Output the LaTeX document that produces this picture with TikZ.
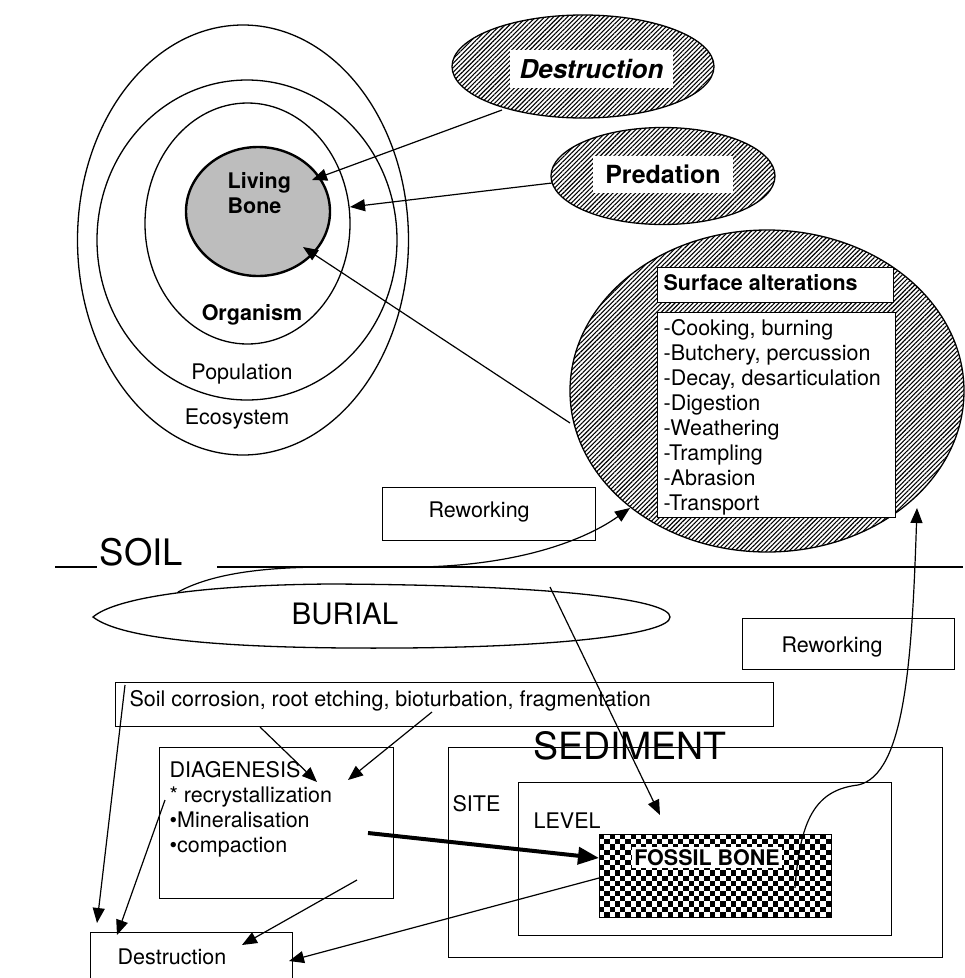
\documentclass[tikz,border=0pt]{standalone}
\usepackage{fontspec}
\setmainfont{TeX Gyre Heros}
\usetikzlibrary{shapes.geometric,arrows.meta,patterns.meta}
\begin{document}
\begin{tikzpicture}[x=1pt,y=-1pt,line width=1.3pt,
  lbl/.style={inner sep=0pt,font=\fontsize{21.5}{25}\selectfont},
  lblb/.style={inner sep=0pt,font=\fontsize{21.5}{25}\selectfont\bfseries},
  oval/.style={draw,ellipse,inner sep=0pt},
  hatch/.style={pattern={Lines[angle=45,distance=3.2pt,line width=1.1pt]}},
  rbox/.style={draw,rectangle,inner sep=0pt,anchor=north west},
  arr/.style={-{Triangle[length=15pt,width=12pt]},line width=1.2pt},
  bigarr/.style={-{Triangle[length=21pt,width=17pt]},line width=4pt},
]
\useasboundingbox (0,0) rectangle (965,978);
\fill[white] (0,0) rectangle (965,978);

% ---- ecology rings
\node[oval,minimum width=331pt,minimum height=430pt] (eco) at (243,240) {};
\node[oval,minimum width=300pt,minimum height=320pt] (pop) at (247,240) {};
\node[oval,minimum width=205pt,minimum height=241pt] (org) at (247.5,223.5) {};
\node[oval,fill=gray!52,line width=2.4pt,minimum width=144pt,minimum height=129pt] (living) at (258,211.5) {};
\node[lblb,anchor=base west] (liv1) at (227,188) {Living};
\node[lblb,anchor=base west] (liv2) at (227,213) {Bone};
\node[lblb,anchor=base] (orglbl) at (252,320) {Organism};
\node[lbl,anchor=base] (poplbl) at (242,379) {Population};
\node[lbl,anchor=base] (ecolbl) at (237,424) {Ecosystem};

% ---- hatched agents
\node[oval,hatch,minimum width=262pt,minimum height=103pt] (destr) at (583,66.5) {};
\node[fill=white,inner sep=0pt,minimum width=163pt,minimum height=38pt,
      font=\fontsize{26}{30}\selectfont\bfseries\itshape] (destrlbl) at (591.5,69) {Destruction};
\node[oval,hatch,minimum width=224pt,minimum height=97pt] (pred) at (663,176) {};
\node[fill=white,inner sep=0pt,minimum width=140pt,minimum height=37pt,
      font=\fontsize{25}{29}\selectfont\bfseries] (predlbl) at (663,174) {Predation};

\node[oval,hatch,minimum width=394pt,minimum height=322pt] (surf) at (767,391) {};
\node[rbox,fill=white,minimum width=236pt,minimum height=35pt] (sahead) at (657,267) {};
\node[lblb,anchor=base west] (sahtxt) at (663,290) {Surface alterations};
\node[rbox,fill=white,minimum width=238pt,minimum height=205pt] (salist) at (657,312) {};
\node[lbl,anchor=north west,align=left] (saltxt) at (663,318.6)
  {-Cooking, burning\\-Butchery, percussion\\-Decay, desarticulation\\-Digestion\\-Weathering\\-Trampling\\-Abrasion\\-Transport};

% arrows to living bone
\coordinate (a1s) at (502,110); \coordinate (a1e) at (312,180);
\coordinate (a2s) at (552,183); \coordinate (a2e) at (350,207);
\coordinate (a3s) at (570,423); \coordinate (a3e) at (303,247);
\draw[arr] (a1s) -- (a1e);
\draw[arr] (a2s) -- (a2e);
\draw[arr] (a3s) -- (a3e);

% ---- soil level
\node[inner sep=0pt,anchor=base,font=\fontsize{36.5}{40}\selectfont] (soil) at (141.5,565) {SOIL};
\coordinate (sl1) at (55,567); \coordinate (sl2) at (97,567);
\coordinate (sl3) at (217,567); \coordinate (sl4) at (963,567);
\draw (sl1) -- (sl2);
\draw (sl3) -- (sl4);

\node[rbox,minimum width=213pt,minimum height=53pt] (rew1) at (382,487) {};
\node[lbl,anchor=base west] (rew1txt) at (428,517) {Reworking};

% burial lens
\draw (93,617) .. controls (115,598) and (200,585) .. (330,584)
      .. controls (560,585) and (670,600) .. (670,617)
      .. controls (670,634) and (560,647) .. (400,648)
      .. controls (250,649) and (125,642) .. cycle;
\node[inner sep=0pt,anchor=base,font=\fontsize{29.5}{33}\selectfont] (burial) at (345,624) {BURIAL};

\coordinate (cv1) at (178,592); \coordinate (cv2) at (630,508);
\draw[arr] (cv1) .. controls (215,572) and (270,567) .. (330,567) -- (420,567)
      .. controls (520,565) and (585,540) .. (cv2);

\node[rbox,minimum width=212pt,minimum height=51pt] (rew2) at (742,618) {};
\node[lbl,anchor=base] (rew2txt) at (832,652) {Reworking};

\node[rbox,minimum width=658pt,minimum height=44pt] (soilbox) at (115,682) {};
\node[lbl,anchor=base west] (soiltxt) at (129,706) {Soil corrosion, root etching, bioturbation, fragmentation};

% ---- diagenesis
\node[rbox,minimum width=234pt,minimum height=151pt] (diag) at (159,747) {};
\node[lbl,anchor=north west,align=left] (diagtxt) at (169,760.6)
  {DIAGENESIS\\* recrystallization\\{\textbullet}Mineralisation\\{\textbullet}compaction};

\node[rbox,minimum width=202pt,minimum height=70pt] (destrbox) at (90,932) {};
\node[lbl,anchor=base west] (destrbtxt) at (117,964) {Destruction};

% ---- sediment
\node[rbox,minimum width=494pt,minimum height=210pt] (site) at (448,747) {};
\node[inner sep=0pt,anchor=base,font=\fontsize{37.5}{41}\selectfont] (sedlbl) at (630,759) {SEDIMENT};
\node[lbl,anchor=base west] (sitelbl) at (452,811) {SITE};
\node[rbox,minimum width=373pt,minimum height=153pt] (level) at (518,782) {};
\node[lbl,anchor=base west] (levellbl) at (533,828) {LEVEL};

% fossil bone checkerboard
\foreach \j in {0,...,15}{
  \foreach \i in {0,2,...,42}{
    \fill[black] ({599+(\i+mod(\j,2))*5.273},{834+\j*5.1875}) rectangle +(5.273,5.1875);
  }
}
\node[rbox,minimum width=232pt,minimum height=83pt] (fossil) at (599,834) {};
\node[lblb,anchor=base,fill=white,inner sep=2.5pt] (fossiltxt) at (707,865) {FOSSIL BONE};

% ---- lower arrows
\coordinate (b1s) at (550,587); \coordinate (b1e) at (660,815);
\draw[arr] (b1s) -- (b1e);
\coordinate (b2s) at (368,833); \coordinate (b2e) at (599,858);
\draw[bigarr] (b2s) -- (b2e);
\coordinate (b3s) at (795,888); \coordinate (b3e) at (917,508);
\draw[arr] (b3s) .. controls (800,820) and (815,790) .. (858,785)
      .. controls (905,775) and (912,660) .. (b3e);
\coordinate (b4s) at (125,685); \coordinate (b4e) at (97,923);
\draw[arr] (b4s) -- (b4e);
\coordinate (b5s) at (165,800); \coordinate (b5e) at (117,935);
\draw[arr] (b5s) -- (b5e);
\coordinate (b6s) at (260,727); \coordinate (b6e) at (317,782);
\draw[arr] (b6s) -- (b6e);
\coordinate (b7s) at (432,712); \coordinate (b7e) at (348,780);
\draw[arr] (b7s) -- (b7e);
\coordinate (b8s) at (357,880); \coordinate (b8e) at (242,945);
\draw[arr] (b8s) -- (b8e);
\coordinate (b9s) at (599,878); \coordinate (b9e) at (289,961);
\draw[arr] (b9s) -- (b9e);
\end{tikzpicture}
\end{document}
